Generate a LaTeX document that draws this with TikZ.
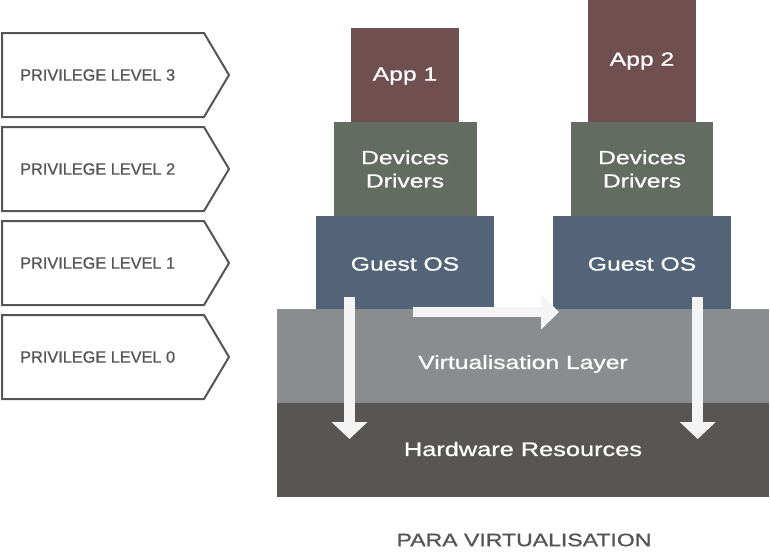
\documentclass[tikz,border=0pt]{standalone}
\usepackage{fontspec}
\setmainfont{Liberation Sans}
\newfontfamily\lvlfont[FakeBold=0.8]{Liberation Sans}
\newfontfamily\boxfont[FakeStretch=1.3,FakeBold=0.9]{Liberation Sans}
\newfontfamily\titlefont[FakeStretch=1.28,FakeBold=1]{Liberation Sans}
\usetikzlibrary{arrows.meta}
\definecolor{appc}{HTML}{6F4F4F}
\definecolor{devc}{HTML}{636C60}
\definecolor{osc}{HTML}{536479}
\definecolor{layc}{HTML}{8A8D8F}
\definecolor{hwc}{HTML}{575654}
\definecolor{lvlc}{HTML}{555555}
\definecolor{arrc}{HTML}{F4F4F4}
\tikzset{
  lvlbox/.style={draw=lvlc, line width=2pt, fill=white, line join=miter},
  lvltext/.style={anchor=west, text=lvlc, font=\lvlfont\fontsize{16.3}{18}\selectfont, inner sep=0pt},
  blk/.style={draw=none, inner sep=0pt},
  blktext/.style={text=white, font=\boxfont\fontsize{19}{23.3}\selectfont, align=center, inner sep=0pt},
  bigarrow/.style={draw=arrc, line width=11pt, -{Triangle[width=35pt,length=17pt]}}
}
\begin{document}
\begin{tikzpicture}[x=1pt,y=-1pt]
\useasboundingbox (0,0) rectangle (770,552);
% privilege levels
\foreach \n/\t in {3/33,2/127,1/221,0/315}{
  \draw[lvlbox] (2,\t) -- (204,\t) -- (229,\t+42) -- (204,\t+84) -- (2,\t+84) -- cycle;
  \node[lvltext] (lvl\n) at (20,\t+42) {PRIVILEGE LEVEL \n};
}
% layers
\fill[layc] (277,309) rectangle (769,403);
\fill[hwc] (277,403) rectangle (769,497);
\node[blk] (layer) at (523,356) {};
\node[blk] (hw) at (523,450) {};
\node[blktext] at (523,364) {Virtualisation Layer};
\node[blktext, font=\boxfont\fontsize{19.5}{23}\selectfont] at (523,449) {Hardware Resources};
% stack 1
\fill[appc] (351,28) rectangle (459,122);
\fill[devc] (334,122) rectangle (477,216);
\fill[osc] (316,216) rectangle (494,309);
\node[blktext] (app1) at (405,76) {App 1};
\node[blktext] (dev1) at (405,169) {Devices\\Drivers};
\node[blktext] (os1) at (405,264) {Guest OS};
% stack 2
\fill[appc] (588,0) rectangle (696,122);
\fill[devc] (571,122) rectangle (713,216);
\fill[osc] (553,216) rectangle (731,309);
\node[blktext] (app2) at (642,61) {App 2};
\node[blktext] (dev2) at (642,169) {Devices\\Drivers};
\node[blktext] (os2) at (642,264) {Guest OS};
% arrows
\coordinate (a1s) at (349.5,297);
\coordinate (a1e) at (349.5,439);
\coordinate (a2s) at (697.7,297);
\coordinate (a2e) at (697.7,439);
\coordinate (hs) at (412.7,312);
\coordinate (he) at (559,312);
\draw[bigarrow] (a1s) -- (a1e);
\draw[bigarrow] (a2s) -- (a2e);
\draw[bigarrow, line width=10pt, -{Triangle[width=34pt,length=18pt]}] (hs) -- (he);
% title
\node[text=lvlc, font=\titlefont\fontsize{18}{20}\selectfont, inner sep=0pt] (title) at (524,540) {PARA VIRTUALISATION};
\end{tikzpicture}
\end{document}
